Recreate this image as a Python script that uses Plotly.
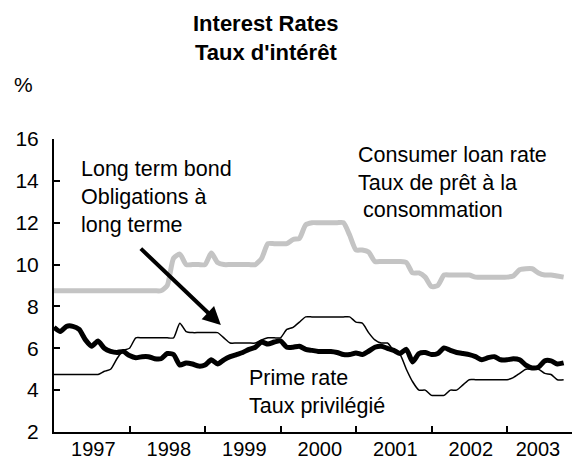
import numpy as np
import plotly.graph_objects as go

# Monthly observations, January 1997 onward (percent)
start_year = 1997

consumer_loan = [
    8.75, 8.75, 8.75, 8.75, 8.75, 8.75, 8.75, 8.75, 8.75, 8.75, 8.75, 8.75,   # 1997
    8.75, 8.75, 8.75, 8.75, 8.75, 8.75, 9.0, 10.3, 10.5, 10.0, 10.0, 10.0,    # 1998
    10.0, 10.55, 10.1, 10.0, 10.0, 10.0, 10.0, 10.0, 10.0, 10.3, 11.0, 11.0,  # 1999
    11.0, 11.0, 11.2, 11.25, 11.9, 12.0, 12.0, 12.0, 12.0, 12.0, 12.0, 11.4,  # 2000
    10.7, 10.7, 10.6, 10.15, 10.15, 10.15, 10.15, 10.15, 10.1, 9.6, 9.6, 9.4, # 2001
    8.95, 9.0, 9.5, 9.5, 9.5, 9.5, 9.5, 9.4, 9.4, 9.4, 9.4, 9.4,              # 2002
    9.4, 9.45, 9.75, 9.8, 9.8, 9.6, 9.5, 9.5, 9.45, 9.4,                      # 2003
]

long_bond = [
    7.0, 6.8, 7.05, 7.05, 6.9, 6.4, 6.1, 6.35, 6.0, 5.85, 5.8, 5.85,          # 1997
    5.65, 5.55, 5.6, 5.6, 5.5, 5.5, 5.75, 5.7, 5.2, 5.3, 5.25, 5.15,          # 1998
    5.2, 5.45, 5.25, 5.45, 5.6, 5.7, 5.8, 5.95, 6.05, 6.3, 6.2, 6.3,          # 1999
    6.35, 6.05, 6.05, 6.1, 5.95, 5.9, 5.85, 5.85, 5.85, 5.8, 5.7, 5.7,        # 2000
    5.78, 5.7, 5.86, 6.05, 6.1, 6.0, 5.9, 5.75, 5.95, 5.35, 5.75, 5.8,        # 2001
    5.7, 5.75, 6.02, 5.9, 5.8, 5.75, 5.7, 5.6, 5.45, 5.55, 5.6, 5.45,         # 2002
    5.45, 5.5, 5.45, 5.2, 5.06, 5.1, 5.4, 5.4, 5.25, 5.3,                     # 2003
]

prime_rate = [
    4.75, 4.75, 4.75, 4.75, 4.75, 4.75, 4.75, 4.75, 4.9, 5.0, 5.5, 5.9,       # 1997
    6.0, 6.5, 6.5, 6.5, 6.5, 6.5, 6.5, 6.5, 7.2, 6.8, 6.75, 6.75,             # 1998
    6.75, 6.75, 6.75, 6.5, 6.25, 6.25, 6.25, 6.25, 6.25, 6.4, 6.5, 6.5,       # 1999
    6.5, 6.9, 7.0, 7.25, 7.5, 7.5, 7.5, 7.5, 7.5, 7.5, 7.5, 7.5,              # 2000
    7.25, 7.2, 6.75, 6.4, 6.25, 6.25, 5.9, 5.7, 5.0, 4.4, 4.0, 4.0,           # 2001
    3.75, 3.75, 3.75, 4.0, 4.0, 4.25, 4.5, 4.5, 4.5, 4.5, 4.5, 4.5,           # 2002
    4.5, 4.6, 4.8, 5.0, 5.0, 5.0, 4.8, 4.75, 4.5, 4.5,                        # 2003
]

year_labels = ["1997", "1998", "1999", "2000", "2001", "2002", "2003"]
y_ticks = [2, 4, 6, 8, 10, 12, 14, 16]

months = np.arange(len(long_bond))
x = start_year + months / 12.0

FONT = "Liberation Sans, Arial, Helvetica, sans-serif"

fig = go.Figure()
fig.add_trace(go.Scatter(x=x, y=consumer_loan, mode="lines",
                         line=dict(color="#c4c4c4", width=5, shape="spline", smoothing=0.6),
                         hoverinfo="skip"))
fig.add_trace(go.Scatter(x=x, y=prime_rate, mode="lines",
                         line=dict(color="black", width=1.5, shape="spline", smoothing=0.6),
                         hoverinfo="skip"))
fig.add_trace(go.Scatter(x=x, y=long_bond, mode="lines",
                         line=dict(color="black", width=5, shape="spline", smoothing=0.6),
                         hoverinfo="skip"))


def text(xv, yv, s, xref="x", yref="y", xanchor="left", bold=False, size=21.5):
    fig.add_annotation(x=xv, y=yv, xref=xref, yref=yref, text=f"<b>{s}</b>" if bold else s,
                       showarrow=False, xanchor=xanchor, yanchor="middle",
                       font=dict(family=FONT, size=size, color="black"))

# Series labels
text(1997.33, 14.55, "Long term bond")
text(1997.33, 13.22, "Obligations à")
text(1997.33, 11.88, "long terme")
text(2001.0, 15.22, "Consumer loan rate")
text(2001.0, 13.88, "Taux de prêt à la")
text(2001.07, 12.60, "consommation")
text(1999.55, 4.59, "Prime rate")
text(1999.55, 3.25, "Taux privilégié")

# Arrow pointing at the series
fig.add_annotation(x=1999.21, y=7.11, ax=1998.13, ay=10.83, xref="x", yref="y",
                   axref="x", ayref="y", text="", showarrow=True,
                   arrowhead=2, arrowsize=0.9, arrowwidth=4, arrowcolor="black", standoff=0)

# Title and unit
text(0.409, 1.395, "Interest Rates", xref="paper", yref="paper", xanchor="center", bold=True, size=22)
text(0.409, 1.294, "Taux d'intérêt", xref="paper", yref="paper", xanchor="center", bold=True, size=22)
text(-0.058, 1.1875, "%", xref="paper", yref="paper", xanchor="center", size=21)

# Year labels sit mid-year; the last one is pulled in to stay inside the frame
label_pos = [int(y) + 0.52 for y in year_labels[:-1]] + [int(year_labels[-1]) + 0.41]

fig.update_layout(
    width=574, height=461,
    margin=dict(l=54, r=2, t=139, b=29),
    paper_bgcolor="white", plot_bgcolor="white",
    showlegend=False,
    font=dict(family=FONT, size=21, color="black"),
)
fig.update_xaxes(
    range=[start_year, start_year + 518 / 75.5],
    tickvals=label_pos, ticktext=year_labels,
    ticks="", showgrid=False, zeroline=False, ticklabelstandoff=-2,
    ticklabeloverflow="allow", automargin=False,
    showline=True, linecolor="black", linewidth=2,
    minor=dict(tickvals=[int(y) for y in year_labels[1:]], ticks="inside",
               ticklen=6, tickwidth=1.5, tickcolor="black", showgrid=False),
    tickfont=dict(family=FONT, size=20),
)
fig.update_yaxes(
    range=[2, 16], tickvals=y_ticks,
    ticks="inside", ticklen=6, tickwidth=1.5, tickcolor="black",
    showgrid=False, zeroline=False, ticklabelstandoff=9, automargin=False,
    showline=True, linecolor="black", linewidth=2,
    tickfont=dict(family=FONT, size=21),
)

fig.write_html("out.html")
